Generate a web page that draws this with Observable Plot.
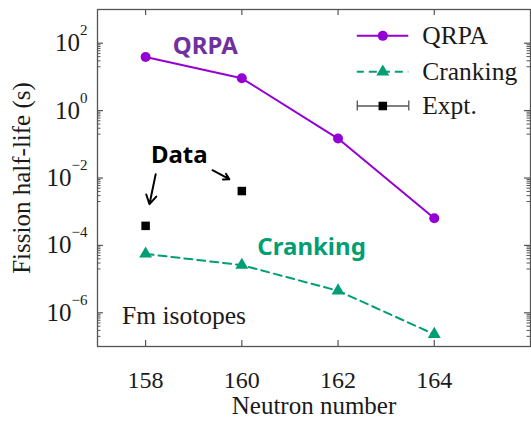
<!DOCTYPE html>
<html><head><meta charset="utf-8">
<script src="https://cdn.jsdelivr.net/npm/d3@7"></script>
<script src="https://cdn.jsdelivr.net/npm/@observablehq/plot@0.6"></script>
<style>body{margin:0;background:#fff}</style>
</head><body><div id="chart"></div>
<script>
// ---- data ----
const neutrons = [158, 160, 162, 164];
const qrpa = [39, 9.1, 0.148, 6.4e-4];
const cranking = [5.6e-5, 2.6e-5, 4.5e-6, 2.3e-7];
const exptN = [158, 160];
const expt = [3.8e-4, 4.1e-3];
const xTicks = [158, 160, 162, 164];
const yTicks = [1e-6, 1e-4, 1e-2, 1, 1e2];
const xDomain = [157, 166];
const yDomain = [1e-7, 1e3];

// annotations (data coordinates)
const labelNames = ["QRPA", "Cranking", "Data"];
const labelX = [159.24, 161.45, 158.70];
const labelY = [83, 9e-5, 0.048];
const labelColors = ["#7030A0", "#009E73", "#000000"];
const arrowX1 = [158.21, 159.39];
const arrowY1 = [0.013, 0.017];
const arrowX2 = [158.08, 159.74];
const arrowY2 = [1.67e-3, 9.2e-3];
const noteText = ["Fm isotopes"];
const noteX = [157.51];
const noteY = [8.1e-7];

// legend (data coordinates)
const legendNames = ["QRPA", "Cranking", "Expt."];
const legendY = [165, 14.1, 1.37];
const legendX1 = 162.40, legendX2 = 163.47, legendXm = 162.93, legendXt = 163.75;

const cQ = "#9400D3", cC = "#009E73", cAx = "#555555", cT = "#1a1a1a";

const W = 531, H = 421, mL = 97, mR = 1, mT = 9, mB = 75;
const pw = W - mL - mR, ph = H - mT - mB;

const qData = neutrons.map((n, i) => ({n, v: qrpa[i]}));
const cData = neutrons.map((n, i) => ({n, v: cranking[i]}));
const eData = exptN.map((n, i) => ({n, v: expt[i]}));
const labels = labelNames.map((t, i) => ({t, x: labelX[i], y: labelY[i], c: labelColors[i]}));
const arrows = arrowX1.map((x1, i) => ({x1, y1: arrowY1[i], x2: arrowX2[i], y2: arrowY2[i]}));
const notes = noteText.map((t, i) => ({t, x: noteX[i], y: noteY[i]}));

// minor ticks: 2..9 x 10^(k-1) below each labelled major tick 10^k
const yMinor = [];
for (const t of yTicks) for (let m = 2; m <= 9; m++) yMinor.push(m * t / 10);

const capF = Math.pow(10, 0.15);

const plot = Plot.plot({
  width: W, height: H,
  marginLeft: mL, marginRight: mR, marginTop: mT, marginBottom: mB,
  style: {fontFamily: "'Liberation Serif', serif", fontSize: "24px", color: cT, background: "#fff"},
  x: {domain: xDomain},
  y: {type: "log", domain: yDomain},
  marks: [
    Plot.frame({stroke: cAx, strokeWidth: 1.3}),
    // inward ticks
    Plot.ruleX(xTicks, {x: d => d, insetTop: ph - 6, stroke: cAx, strokeWidth: 1.2}),
    Plot.ruleX(xTicks, {x: d => d, insetBottom: ph - 6, stroke: cAx, strokeWidth: 1.2}),
    Plot.ruleY(yTicks, {y: d => d, insetRight: pw - 6, stroke: cAx, strokeWidth: 1.2}),
    Plot.ruleY(yTicks, {y: d => d, insetLeft: pw - 6, stroke: cAx, strokeWidth: 1.2}),
    Plot.ruleY(yMinor, {y: d => d, insetRight: pw - 3.5, stroke: cAx, strokeWidth: 1}),
    Plot.ruleY(yMinor, {y: d => d, insetLeft: pw - 3.5, stroke: cAx, strokeWidth: 1}),
    Plot.axisX({ticks: xTicks, tickSize: 0, tickPadding: 24, tickFormat: d => String(d), fontSize: 24}),
    Plot.axisX({ticks: [], label: "Neutron number", labelAnchor: "center", labelArrow: "none", labelOffset: 67, fontSize: 25}),
    Plot.axisY({ticks: yTicks, tickSize: 0, tickPadding: 10, tickFormat: d => "10^" + Math.round(Math.log10(d)), fontSize: 25}),
    Plot.axisY({ticks: [], label: "Fission half-life (s)", labelAnchor: "center", labelArrow: "none", labelOffset: 85, fontSize: 25}),
    // series
    Plot.line(qData, {x: "n", y: "v", stroke: cQ, strokeWidth: 2}),
    Plot.dot(qData, {x: "n", y: "v", r: 5, fill: cQ}),
    Plot.line(cData, {x: "n", y: "v", stroke: cC, strokeWidth: 2, strokeDasharray: "8,5"}),
    Plot.dot(cData, {x: "n", y: "v", symbol: "triangle", r: 4.8, fill: cC}),
    Plot.dot(eData, {x: "n", y: "v", symbol: "square", r: 4.8, fill: "#000"}),
    // annotations
    Plot.text(labels, {x: "x", y: "y", text: "t", fill: "c", fontFamily: "'Noto Sans', sans-serif", fontWeight: "bold", fontSize: 24}),
    Plot.arrow(arrows, {x1: "x1", y1: "y1", x2: "x2", y2: "y2", stroke: "#000", strokeWidth: 2, headLength: 8}),
    Plot.text(notes, {x: "x", y: "y", text: "t", textAnchor: "start", fill: cT, fontSize: 25.5}),
    // legend
    Plot.ruleY([legendY[0]], {y: d => d, x1: legendX1, x2: legendX2, stroke: cQ, strokeWidth: 2}),
    Plot.dot([legendY[0]], {x: legendXm, y: d => d, r: 5, fill: cQ}),
    Plot.ruleY([legendY[1]], {y: d => d, x1: legendX1, x2: legendX2, stroke: cC, strokeWidth: 2, strokeDasharray: "8,5", strokeDashoffset: 1}),
    Plot.dot([legendY[1]], {x: legendXm, y: d => d, symbol: "triangle", r: 4.8, fill: cC}),
    Plot.ruleY([legendY[2]], {y: d => d, x1: legendX1, x2: legendX2, stroke: cAx, strokeWidth: 1.3}),
    Plot.ruleX([legendX1, legendX2], {x: d => d, y1: legendY[2] / capF, y2: legendY[2] * capF, stroke: cAx, strokeWidth: 1.3}),
    Plot.dot([legendY[2]], {x: legendXm, y: d => d, symbol: "square", r: 4.8, fill: "#000"}),
    Plot.text(legendNames, {x: legendXt, y: (d, i) => legendY[i], text: d => d, textAnchor: "start", fill: cT, fontSize: 25.5})
  ]
});

// render y tick labels as 10 with superscript exponent
d3.select(plot).selectAll('g[aria-label="y-axis tick label"] text').each(function() {
  const s = this.textContent;
  const m = s.match(/^10\^(-?\d+)$/);
  if (!m) return;
  const e = m[1].replace("-", "\u2212");
  const t = d3.select(this);
  t.text("");
  t.append("tspan").text("10");
  t.append("tspan").attr("dy", -16).attr("font-size", "15px").text(e);
});
document.getElementById("chart").appendChild(plot);
</script>
</body></html>
